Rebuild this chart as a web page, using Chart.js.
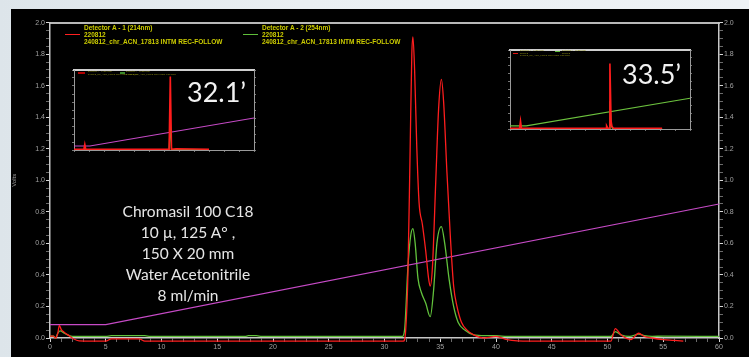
<!DOCTYPE html>
<html>
<head>
<meta charset="utf-8">
<script src="https://cdn.jsdelivr.net/npm/chart.js@4.4.1/dist/chart.umd.min.js"></script>
<style>
  html, body { margin: 0; padding: 0; width: 749px; height: 357px; overflow: hidden; }
  body { background: linear-gradient(90deg, #dde5ea 0px, #eaeff2 40%, #eef2f5 100%); position: relative; }
  #panel { position: absolute; left: 11px; top: 9px; width: 738px; height: 348px; background: #000; }
  .box { position: absolute; }
  .legend { position: absolute; font: bold 6.5px "Liberation Sans", Arial, sans-serif; line-height: 7.2px; color: #cccc00; white-space: nowrap; }
  .swatch { position: absolute; height: 1.5px; }
  .note { position: absolute; left: 88px; width: 200px; top: 201px; text-align: center; font: 15.5px Lato, sans-serif; line-height: 21px; color: #e6e6e6; }
  .big { position: absolute; font: 27px Lato, sans-serif; line-height: 27px; color: #f2f2f2; white-space: nowrap; }
  .tiny { position: absolute; font: 2.4px "Liberation Sans", Arial, sans-serif; line-height: 2.6px; color: #8a8a10; white-space: nowrap; }
</style>
</head>
<body>
<div id="panel"></div>
<div class="box" style="left:11px;top:9px;width:738px;height:356px"><canvas id="chromatogram"></canvas></div>

<div class="swatch" style="left:65px;top:33.6px;width:15px;background:#ff2020"></div>
<div class="legend" style="left:84px;top:24px">Detector A - 1 (214nm)<br>220812<br>240812_chr_ACN_17813 INTM REC-FOLLOW</div>
<div class="swatch" style="left:243px;top:33.6px;width:15px;background:#5fbf3a"></div>
<div class="legend" style="left:262px;top:24px">Detector A - 2 (254nm)<br>220812<br>240812_chr_ACN_17813 INTM REC-FOLLOW</div>

<div class="box" style="left:64px;top:66px;width:200px;height:92px;background:#000"><canvas id="inset1"></canvas></div>
<div class="box" style="left:500px;top:46px;width:200px;height:91px;background:#000"><canvas id="inset2"></canvas></div>

<div class="swatch" style="left:78px;top:72px;width:7px;background:#b00000"></div>
<div class="tiny" style="left:88px;top:71px">Detector A - 1 (214nm)<br>240812_chr_ACN_17813 INTM REC-FOLLOW</div>
<div class="swatch" style="left:120px;top:72px;width:5px;background:#3c8a2a"></div>
<div class="tiny" style="left:126px;top:71px">Detector A - 2 (254nm)<br>240812_chr_ACN_17813 INTM REC-FOLLOW</div>

<div class="swatch" style="left:513px;top:52.5px;width:5px;background:#e01010"></div>
<div class="tiny" style="left:520px;top:50px">Detector A - 1 (214nm)<br>220812<br>240812_chr_ACN_17813 INTM REC-FOLLOW</div>
<div class="swatch" style="left:555px;top:50.5px;width:5px;background:#5fbf3a"></div>
<div class="tiny" style="left:562px;top:50px">Detector A - 2 (254nm)<br>220812</div>

<div class="big" style="left:187px;top:78px">32.1’</div>
<div class="big" style="left:622px;top:60px">33.5’</div>

<div class="note">Chromasil 100 C18<br>10 µ, 125 A° ,<br>150 X 20 mm<br>Water Acetonitrile<br>8 ml/min</div>

<script>
// ---- main chromatogram (minutes / volts) ----
const minutes214 = [0, 0.3, 0.5, 0.7, 0.84, 1.0, 1.3, 1.7, 2.1, 2.6, 5.0, 5.5, 8.0, 8.5, 19.0, 31.7,
  31.9, 32.1, 32.3, 32.45, 32.55, 32.7, 32.9, 33.1, 33.4, 33.7, 33.95, 34.1, 34.3, 34.6, 34.85, 35.1,
  35.3, 35.6, 35.9, 36.2, 36.5, 36.9, 37.4, 38.0, 39.0, 40.0, 41.0, 43.0, 50.3, 50.7, 51.2, 52.1,
  52.8, 53.3, 54.0, 55.0, 56.0, 56.8];
const volts214 = [0.012, 0.012, 0.0, 0.03, 0.08, 0.055, 0.035, 0.015, -0.005, -0.018, -0.02, -0.005, -0.005, -0.02, -0.02, -0.02,
  0.05, 0.4, 1.2, 1.8, 1.91, 1.7, 1.2, 0.86, 0.72, 0.55, 0.38, 0.33, 0.45, 1.0, 1.45, 1.64,
  1.5, 1.05, 0.65, 0.33, 0.2, 0.1, 0.05, 0.02, 0.0, 0.01, -0.01, -0.02, -0.02, 0.06, 0.02, -0.01,
  0.03, 0.01, 0.0, -0.01, -0.015, -0.02];

const minutes254 = [0, 0.3, 0.5, 0.7, 0.9, 1.3, 2.0, 5.0, 5.5, 8.5, 9.0, 17.5, 17.8, 18.5, 19.0, 31.6,
  31.8, 32.1, 32.35, 32.55, 32.75, 33.0, 33.3, 33.7, 34.1, 34.4, 34.7, 35.1, 35.4, 35.8, 36.2, 36.6,
  37.2, 38.0, 39.0, 40.0, 41.0, 50.3, 50.7, 51.2, 52.0, 52.8, 53.3, 54.0, 55.0, 60.0];
const volts254 = [0.012, 0.012, 0.0, 0.03, 0.045, 0.03, 0.01, 0.01, 0.015, 0.015, 0.01, 0.01, 0.015, 0.015, 0.01, 0.01,
  0.05, 0.45, 0.65, 0.694, 0.6, 0.38, 0.29, 0.22, 0.135, 0.3, 0.6, 0.707, 0.6, 0.37, 0.2, 0.1,
  0.05, 0.02, 0.015, 0.015, 0.01, 0.01, 0.04, 0.02, 0.01, 0.025, 0.015, 0.01, 0.012, 0.01];

const gradientMinutes = [0, 5, 60];
const gradientLevel = [0.085, 0.085, 0.85];

const minuteTicks = [0, 5, 10, 15, 20, 25, 30, 35, 40, 45, 50, 55, 60];
const voltTicks = [0.0, 0.2, 0.4, 0.6, 0.8, 1.0, 1.2, 1.4, 1.6, 1.8, 2.0];

// ---- insets (relative scale) ----
const inset1Minutes214 = [0, 3.3, 3.6, 3.9, 31.7, 32.1, 32.5, 34.0, 45.0];
const inset1Red = [0.01, 0.01, 0.07, 0.01, 0.01, 0.92, 0.01, 0.015, 0.01];
const inset1Minutes254 = [0, 31.7, 32.1, 32.5, 45.0];
const inset1Green = [0.005, 0.005, 0.35, 0.005, 0.005];
const inset1GradMinutes = [0, 5.3, 60];
const inset1Grad = [0.05, 0.05, 0.40];

const inset2Minutes214 = [0, 3.2, 3.5, 3.8, 32.0, 32.2, 32.6, 33.0, 33.3, 33.7, 34.0, 34.5, 50.7];
const inset2Red = [0.01, 0.01, 0.10, 0.01, 0.01, 0.04, 0.01, 0.01, 0.83, 0.10, 0.03, 0.01, 0.01];
const inset2Minutes254 = [0, 33.0, 33.3, 33.7, 34.2, 50.7];
const inset2Green = [0.005, 0.005, 0.35, 0.05, 0.005, 0.005];
const inset2GradMinutes = [0, 5.4, 60];
const inset2Grad = [0.04, 0.04, 0.39];

const toPoints = (xs, ys) => xs.map((x, i) => ({ x, y: ys[i] }));

function minorSteps(major, parts) {
  const out = [];
  for (let i = 0; i < major.length - 1; i++) {
    const step = (major[i + 1] - major[i]) / parts;
    for (let k = 0; k < parts; k++) out.push(+(major[i] + k * step).toFixed(4));
  }
  out.push(major[major.length - 1]);
  return out;
}

const isMajor = (v, list) => list.some(m => Math.abs(m - v) < 1e-6);

const axisGray = "#c8c8c8";
const labelGray = "#a0a0a0";
const font7 = { family: "'Liberation Sans', Arial, sans-serif", size: 7 };

function voltAxis(position, width) {
  return {
    type: "linear", position, min: 0, max: 2,
    afterFit: (s) => { s.width = width; },
    afterBuildTicks: (s) => { s.ticks = minorSteps(voltTicks, 4).map(v => ({ value: v })); },
    border: { color: axisGray, width: 1.5 },
    grid: {
      drawOnChartArea: false, tickLength: 4,
      tickColor: (c) => isMajor(c.tick.value, voltTicks) ? "#d8d8d8" : "#6a6a6a"
    },
    ticks: {
      autoSkip: false, padding: 1, color: labelGray, font: font7,
      callback: (v) => isMajor(v, voltTicks) ? v.toFixed(1) : ""
    },
    title: position === "left"
      ? { display: true, text: "Volts", color: labelGray, font: { size: 6 }, padding: { top: 0, bottom: 0 } }
      : { display: false }
  };
}

const straight = { tension: 0, cubicInterpolationMode: "default" };

new Chart(document.getElementById("chromatogram"), {
  type: "line",
  data: {
    datasets: [
      { label: "Detector A - 1 (214nm)", data: toPoints(minutes214, volts214), borderColor: "#ff1e1e", borderWidth: 1.3 },
      Object.assign({ label: "Gradient", data: toPoints(gradientMinutes, gradientLevel), borderColor: "#c64ac6", borderWidth: 1.1 }, straight),
      { label: "Detector A - 2 (254nm)", data: toPoints(minutes254, volts254), borderColor: "#62c23c", borderWidth: 1.3 }
    ]
  },
  options: {
    responsive: true,
    maintainAspectRatio: false,
    animation: false,
    layout: { padding: 0 },
    elements: { point: { radius: 0 }, line: { cubicInterpolationMode: "monotone" } },
    datasets: { line: { clip: 4 } },
    plugins: { legend: { display: false }, tooltip: { enabled: false } },
    scales: {
      x: {
        type: "linear", position: "bottom", min: 0, max: 60,
        afterFit: (s) => { s.height = 27; },
        afterBuildTicks: (s) => { s.ticks = minorSteps(minuteTicks, 5).map(v => ({ value: v })); },
        border: { color: axisGray, width: 1.5 },
        grid: {
          drawOnChartArea: false, tickLength: 4,
          tickColor: (c) => isMajor(c.tick.value, minuteTicks) ? "#d8d8d8" : "#6a6a6a"
        },
        ticks: {
          autoSkip: false, maxRotation: 0, padding: 1, color: labelGray, font: font7,
          callback: (v) => isMajor(v, minuteTicks) ? String(v) : ""
        },
        title: { display: true, text: "Minutes", color: labelGray, font: { size: 7 }, padding: { top: 2, bottom: 0 } }
      },
      xTop: {
        type: "linear", position: "top", min: 0, max: 60, display: true,
        afterFit: (s) => { s.height = 13.7; },
        border: { color: "#b8b8b8", width: 2 },
        grid: { drawOnChartArea: false, drawTicks: false },
        ticks: { display: false }
      },
      y: voltAxis("left", 39),
      yRight: voltAxis("right", 30)
    }
  }
});

function inset(id, red, green, grad, gradColor) {
  const tinyAxis = (pos, size, max) => ({
    type: "linear", position: pos, min: 0, max,
    afterFit: (s) => { if (pos === "left" || pos === "right") s.width = size; else s.height = size; },
    border: { color: pos === "top" ? "#cfcfcf" : "#9a9a9a", width: pos === "top" ? 2 : 1 },
    grid: { drawOnChartArea: false, tickLength: 2, tickColor: "#777", drawTicks: pos !== "top" },
    ticks: { display: pos !== "top", color: "#666", font: { size: 2 }, padding: 1, autoSkip: false,
             stepSize: (pos === "left" || pos === "right") ? 0.1 : 5, callback: () => "." }
  });
  new Chart(document.getElementById(id), {
    type: "line",
    data: {
      datasets: [
        { data: red, borderColor: "#ff1c1c", borderWidth: 1.6 },
        { data: green, borderColor: "#5fbf3a", borderWidth: 1.3 },
        { data: grad, borderColor: gradColor, borderWidth: 1.1 }
      ]
    },
    options: {
      responsive: true, maintainAspectRatio: false, animation: false,
      layout: { padding: 0 },
      elements: { point: { radius: 0 }, line: { tension: 0 } },
      plugins: { legend: { display: false }, tooltip: { enabled: false } },
      scales: {
        x: tinyAxis("bottom", 8, 60),
        xTop: Object.assign(tinyAxis("top", 4, 60), { display: true }),
        y: tinyAxis("left", 10, 1),
        yRight: Object.assign(tinyAxis("right", 10, 1), { display: true })
      }
    }
  });
}

inset("inset1",
  toPoints(inset1Minutes214, inset1Red),
  toPoints(inset1Minutes254, inset1Green),
  toPoints(inset1GradMinutes, inset1Grad), "#c64ac6");
inset("inset2",
  toPoints(inset2Minutes214, inset2Red),
  toPoints(inset2Minutes254, inset2Green),
  toPoints(inset2GradMinutes, inset2Grad), "#6cc23e");
</script>
</body>
</html>
